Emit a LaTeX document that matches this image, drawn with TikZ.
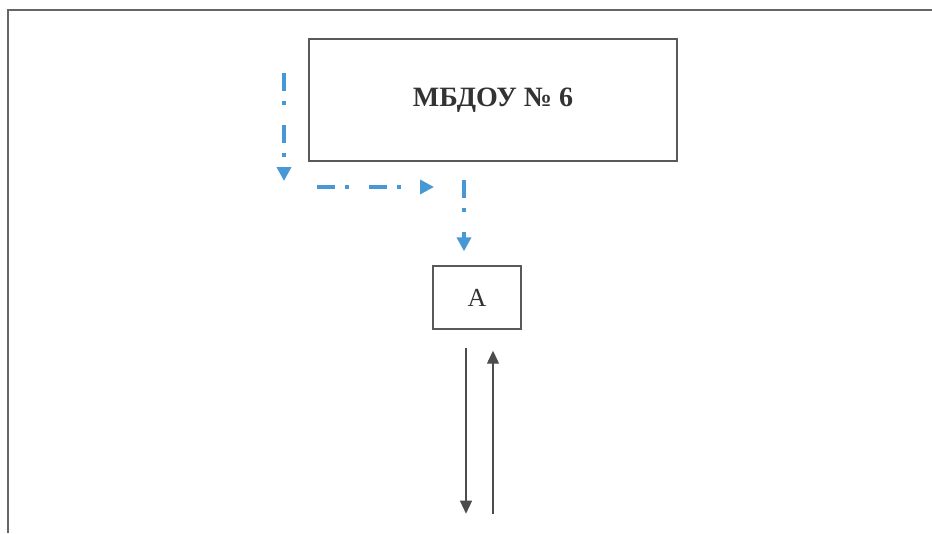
\documentclass[tikz,border=0pt]{standalone}
\usepackage{fontspec}
\setmainfont{Liberation Serif}
\usetikzlibrary{arrows.meta,positioning}
\definecolor{routeblue}{RGB}{72,152,214}
\begin{document}
\begin{tikzpicture}[
  x=1pt, y=-1pt,
  frame/.style={draw=black!60, line width=1.5pt},
  box/.style={draw=black!65, line width=1.4pt, inner sep=0pt, text=black!80},
  flow/.style={draw=black!70, line width=1.3pt, -{Triangle[length=13pt,width=12pt]}},
  route/.style={draw=routeblue, line width=4pt, dash pattern=on 18pt off 10pt on 4pt off 20pt, -{Triangle[length=14pt,width=14pt]}}
]
\useasboundingbox (0,0) rectangle (932,533);
\draw[frame] (8,533) -- (8,10) -- (932,10);

\node[box, minimum width=368pt, minimum height=122pt, font=\bfseries\fontsize{28}{30}\selectfont] (mbdou) at (493,100) {МБДОУ № 6};
\node[box, minimum width=88pt, minimum height=63pt, font=\fontsize{26}{28}\selectfont] (a) at (477,297.5) {А};

% blue route
\coordinate (l1) at (284,73);
\coordinate (l2) at (284,181);
\coordinate (h1) at (317,187);
\coordinate (h2) at (434,187);
\coordinate (v1) at (464,180);
\draw[route] (l1) -- (l2);
\draw[route] (h1) -- (h2);
\draw[route] (v1) -- ([yshift=14pt]a.north -| v1);

% links below A
\coordinate (d1) at ([xshift=-11pt,yshift=-18pt]a.south);
\coordinate (d2) at ([xshift=-11pt,yshift=-184pt]a.south);
\coordinate (u1) at ([xshift=16pt,yshift=-184pt]a.south);
\coordinate (u2) at ([xshift=16pt,yshift=-21pt]a.south);
\draw[flow] (d1) -- (d2);
\draw[flow] (u1) -- (u2);
\end{tikzpicture}
\end{document}
